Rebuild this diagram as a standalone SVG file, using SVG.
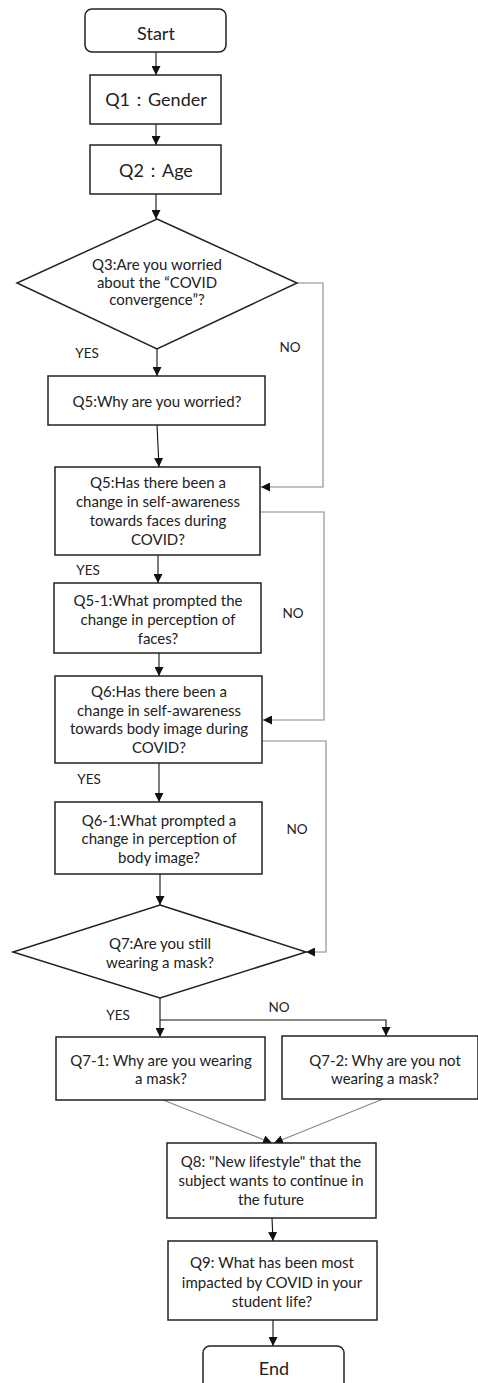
<svg xmlns="http://www.w3.org/2000/svg" width="478" height="1383" viewBox="0 0 478 1383">
<style>
.box{fill:#fff;stroke:#222;stroke-width:1.5}
.t{font-family:Lato,"Liberation Sans",sans-serif;font-size:15px;fill:#222;text-anchor:middle}
.big{font-size:18px}
.lbl{font-family:Lato,"Liberation Sans",sans-serif;font-size:13.5px;fill:#222;text-anchor:middle}
.c{fill:none;stroke:#111;stroke-width:1.1}
.g{fill:none;stroke:#888;stroke-width:1.1}
</style>
<defs>
<marker id="ah" markerUnits="userSpaceOnUse" markerWidth="9" markerHeight="9" viewBox="0 0 8 8" refX="8" refY="4" orient="auto">
<path d="M0,0 L8,4 L0,8 z" fill="#111"/>
</marker>
</defs>
<rect width="478" height="1383" fill="#fff"/>
<g id="connectors">
<path class="c" d="M156,52 V75" marker-end="url(#ah)"/>
<path class="c" d="M156,124 V145" marker-end="url(#ah)"/>
<path class="c" d="M156,194 V219" marker-end="url(#ah)"/>
<path class="c" d="M157,349 V376" marker-end="url(#ah)"/>
<path class="c" d="M157,425 L159,467" marker-end="url(#ah)"/>
<path class="g" d="M297,283 H323 V487 H261" marker-end="url(#ah)"/>
<path class="c" d="M158,555 V583" marker-end="url(#ah)"/>
<path class="g" d="M260,512 H324 V720 H263" marker-end="url(#ah)"/>
<path class="c" d="M159,653 V676" marker-end="url(#ah)"/>
<path class="c" d="M159,763 V802" marker-end="url(#ah)"/>
<path class="g" d="M262,741 H326 V952 H306" marker-end="url(#ah)"/>
<path class="c" d="M160,874 V905" marker-end="url(#ah)"/>
<path class="c" d="M160,998 V1037" marker-end="url(#ah)"/>
<path class="c" d="M160,1020 H386 V1036" marker-end="url(#ah)"/>
<path class="g" d="M163,1100 L272,1143" marker-end="url(#ah)"/>
<path class="g" d="M383,1099 L274,1143" marker-end="url(#ah)"/>
<path class="c" d="M272,1218 L273,1241" marker-end="url(#ah)"/>
<path class="c" d="M273,1320 V1346" marker-end="url(#ah)"/>
</g>
<g id="labels">
<text class="lbl" x="87" y="358">YES</text>
<text class="lbl" x="290" y="352">NO</text>
<text class="lbl" x="88" y="575">YES</text>
<text class="lbl" x="293" y="618">NO</text>
<text class="lbl" x="89" y="784">YES</text>
<text class="lbl" x="297" y="834">NO</text>
<text class="lbl" x="118" y="1020">YES</text>
<text class="lbl" x="279" y="1012">NO</text>
</g>
<g id="start">
<rect class="box" x="85" y="9" width="141" height="43" rx="7"/>
<text class="t big" x="156" y="40">Start</text>
</g>
<g id="q1">
<rect class="box" x="90" y="75" width="131" height="49"/>
<text class="t big" x="156" y="106">Q1：Gender</text>
</g>
<g id="q2">
<rect class="box" x="90" y="145" width="131" height="49"/>
<text class="t big" x="156" y="177">Q2：Age</text>
</g>
<g id="q3">
<polygon class="box" points="157,219 297,283 157,349 17,283"/>
<text class="t" font-size="13" x="157" y="270">Q3:Are you worried</text>
<text class="t" font-size="13" x="157" y="288">about the “COVID</text>
<text class="t" font-size="13" x="157" y="305">convergence”?</text>
</g>
<g id="q5why">
<rect class="box" x="48" y="376" width="217" height="49"/>
<text class="t" x="157" y="407">Q5:Why are you worried?</text>
</g>
<g id="q5">
<rect class="box" x="55" y="467" width="205" height="88"/>
<text class="t" x="158" y="488">Q5:Has there been a</text>
<text class="t" x="158" y="507">change in self-awareness</text>
<text class="t" x="158" y="526">towards faces during</text>
<text class="t" x="158" y="545">COVID?</text>
</g>
<g id="q5-1">
<rect class="box" x="54" y="583" width="207" height="70"/>
<text class="t" x="158" y="606">Q5-1:What prompted the</text>
<text class="t" x="158" y="625">change in perception of</text>
<text class="t" x="158" y="644">faces?</text>
</g>
<g id="q6">
<rect class="box" x="55" y="676" width="207" height="87"/>
<text class="t" x="159" y="697">Q6:Has there been a</text>
<text class="t" x="159" y="716">change in self-awareness</text>
<text class="t" x="159" y="734">towards body image during</text>
<text class="t" x="159" y="753">COVID?</text>
</g>
<g id="q6-1">
<rect class="box" x="55" y="802" width="207" height="72"/>
<text class="t" x="159" y="826">Q6-1:What prompted a</text>
<text class="t" x="159" y="844">change in perception of</text>
<text class="t" x="159" y="863">body image?</text>
</g>
<g id="q7">
<polygon class="box" points="160,905 306,952 160,998 13,952"/>
<text class="t" x="160" y="949">Q7:Are you still</text>
<text class="t" x="160" y="968">wearing a mask?</text>
</g>
<g id="q7-1">
<rect class="box" x="56" y="1037" width="209" height="63"/>
<text class="t" x="161" y="1066">Q7-1: Why are you wearing</text>
<text class="t" x="161" y="1084">a mask?</text>
</g>
<g id="q7-2">
<rect class="box" x="282" y="1036" width="196" height="63"/>
<text class="t" x="385" y="1066">Q7-2: Why are you not</text>
<text class="t" x="385" y="1084">wearing a mask?</text>
</g>
<g id="q8">
<rect class="box" x="167" y="1143" width="209" height="75"/>
<text class="t" x="271" y="1167">Q8: "New lifestyle" that the</text>
<text class="t" x="271" y="1186">subject wants to continue in</text>
<text class="t" x="271" y="1205">the future</text>
</g>
<g id="q9">
<rect class="box" x="168" y="1241" width="209" height="79"/>
<text class="t" x="272" y="1268">Q9: What has been most</text>
<text class="t" x="272" y="1288">impacted by COVID in your</text>
<text class="t" x="272" y="1307">student life?</text>
</g>
<g id="end">
<rect class="box" x="203" y="1346" width="141" height="60" rx="7"/>
<text class="t big" x="274" y="1375">End</text>
</g>
</svg>
